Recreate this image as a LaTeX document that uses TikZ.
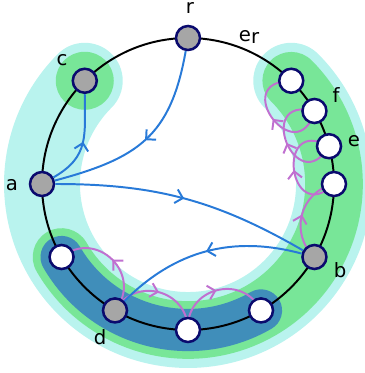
\documentclass[tikz,border=0pt]{standalone}
\usepackage{fontspec}
\setmainfont{DejaVu Sans}
\usetikzlibrary{arrows.meta,decorations.markings,backgrounds}

\definecolor{bandcyan}{RGB}{185,243,238}
\definecolor{bandgreen}{RGB}{120,230,152}
\definecolor{bandblue}{RGB}{64,142,186}
\definecolor{arcblue}{RGB}{40,122,216}
\definecolor{arcpurple}{RGB}{192,112,208}
\definecolor{rimnavy}{RGB}{10,10,110}
\definecolor{vgray}{RGB}{166,166,166}

\tikzset{
  vtx/.style={circle, draw=rimnavy, line width=1.8pt, minimum size=0.6cm, inner sep=0pt},
  gvtx/.style={vtx, fill=vgray},
  wvtx/.style={vtx, fill=white},
  lbl/.style={font=\fontsize{14}{16}\selectfont, inner sep=0pt},
  midarrow/.style={postaction={decorate}, decoration={markings,
      mark=at position 0.5 with {\arrow{Straight Barb[length=5pt,width=10pt]}}}},
  bluearc/.style={arcblue, line width=1.4pt, midarrow},
  purplearc/.style={arcpurple, line width=1.4pt, midarrow},
}

\begin{document}
\begin{tikzpicture}[x=0.025cm, y=0.025cm]
                \useasboundingbox (-188,-189) rectangle (176,184);

                \node[gvtx] (r) at (90:146) {};
                \node[gvtx] (c) at (135:146) {};
                \node[gvtx] (a) at (180:146) {};
                \node[wvtx] (w1) at (210:146) {};
                \node[gvtx] (d) at (240:146) {};
                \node[wvtx] (w2) at (270:146) {};
                \node[wvtx] (w3) at (300:146) {};
                \node[gvtx] (b) at (330:146) {};
                \node[wvtx] (w4) at (0:146) {};
                \node[wvtx] (e) at (15:146) {};
                \node[wvtx] (f) at (30:146) {};
                \node[wvtx] (er) at (45:146) {};

                \begin{scope}[on background layer]
                \draw[bandcyan, line width=54pt, line cap=round] (135:146) arc[start angle=135, end angle=405, radius=146];
                \draw[bandgreen, line width=41pt, line cap=round] (210:146) arc[start angle=210, end angle=405, radius=146];
                \fill[bandgreen] (135:146) circle[radius=29];
                \draw[bandblue, line width=30pt, line cap=round] (210:146) arc[start angle=210, end angle=300, radius=146];
                \draw[line width=1.4pt] (0,0) circle[radius=146];

                \draw[purplearc] (d.center) to[bend right=84, distance=1.14cm] (w1.center);
                \draw[purplearc] (d.center) to[bend left=75, distance=1cm] (w2.center);
                \draw[purplearc] (w2.center) to[bend left=79, distance=1.05cm] (w3.center);
                \draw[purplearc] (b.center) to[bend left=62, distance=0.87cm] (w4.center);
                \draw[purplearc] (w4.center) to[bend left=127, distance=1.58cm] (e.center);
                \draw[purplearc] (e.center) to[bend left=127, distance=1.58cm] (f.center);
                \draw[purplearc] (f.center) to[bend left=127, distance=1.58cm] (er.center);
                \end{scope}

                \node[lbl] (rlbl) at (2,176) {r};
                \node[lbl] (clbl) at (-126,124) {c};
                \node[lbl] (albl) at (-176,-1) {a};
                \node[lbl] (dlbl) at (-88,-153) {d};
                \node[lbl] (blbl) at (152,-86) {b};
                \node[lbl] (elbl) at (166,43) {e};
                \node[lbl] (flbl) at (148,89) {f};
                \node[lbl] (erlbl) at (61,147) {e\raisebox{-.25ex}{r}};

                \draw[bluearc] (r) to[out=-100, in=15, looseness=1.2] (a);
                \draw[bluearc] (a) to[out=30, in=-90, looseness=1.2] (c);
                \draw[bluearc] (a) to[bend left=15] (b);
                \draw[bluearc] (b) to[bend right=30] (d);
\end{tikzpicture}
\end{document}
